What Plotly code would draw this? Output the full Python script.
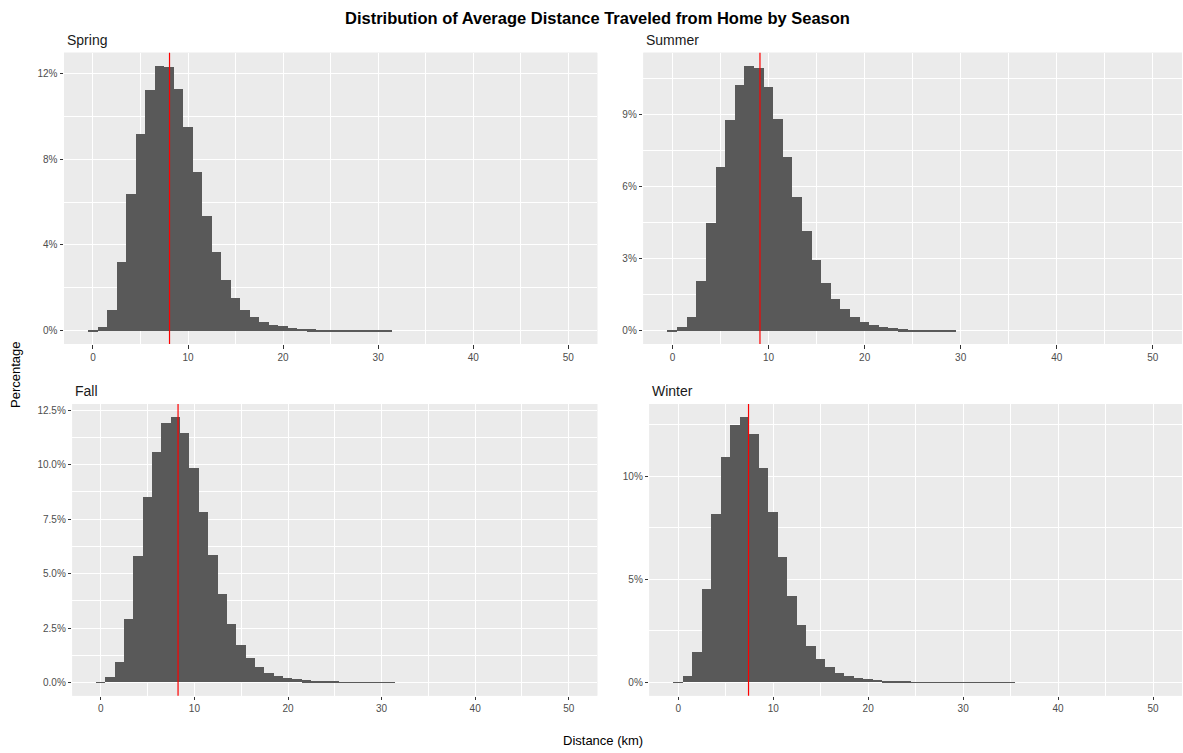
import plotly.graph_objects as go

W, H = 1183, 753

seasons = ["Spring", "Summer", "Fall", "Winter"]

spring_pct = [0.02, 0.19, 0.96, 3.23, 6.39, 9.18, 11.24, 12.35, 12.31, 11.27, 9.51, 7.40, 5.38,
              3.67, 2.38, 1.54, 0.99, 0.65, 0.42, 0.30, 0.22, 0.16, 0.11, 0.08, 0.06, 0.05,
              0.04, 0.02, 0.02, 0.01, 0.01, 0.01]
summer_pct = [0.02, 0.15, 0.58, 2.09, 4.49, 6.82, 8.79, 10.26, 11.03, 10.96, 10.15, 8.82, 7.24,
              5.60, 4.15, 2.94, 2.00, 1.35, 0.90, 0.58, 0.37, 0.25, 0.17, 0.11, 0.08, 0.06,
              0.04, 0.02, 0.01, 0.01]
fall_pct = [0.02, 0.25, 0.95, 2.92, 5.79, 8.51, 10.60, 11.92, 12.18, 11.47, 9.86, 7.83, 5.84,
            4.04, 2.69, 1.74, 1.14, 0.71, 0.45, 0.31, 0.20, 0.14, 0.09, 0.06, 0.05, 0.03,
            0.02, 0.02, 0.01, 0.01, 0.01, 0.01]
winter_pct = [0.02, 0.29, 1.49, 4.55, 8.17, 10.94, 12.50, 12.86, 12.03, 10.39, 8.28, 6.10, 4.20,
              2.78, 1.77, 1.12, 0.73, 0.47, 0.31, 0.21, 0.15, 0.10, 0.06, 0.05, 0.03, 0.02,
              0.02, 0.01, 0.01, 0.01, 0.01, 0.01, 0.01, 0.01, 0.01, 0.01]

mean_km = [8.05, 9.1, 8.25, 7.4]

x_ticks = [0, 10, 20, 30, 40, 50]
y_tickvals = [[0, 4, 8, 12], [0, 3, 6, 9], [0, 2.5, 5, 7.5, 10, 12.5], [0, 5, 10]]
y_ticktext = [["0%", "4%", "8%", "12%"], ["0%", "3%", "6%", "9%"],
              ["0.0%", "2.5%", "5.0%", "7.5%", "10.0%", "12.5%"], ["0%", "5%", "10%"]]
y_minor = [2, 1.5, 1.25, 2.5]

series = [spring_pct, summer_pct, fall_pct, winter_pct]

# panel rectangles in pixels (left, top, right, bottom)
panels = [(64, 52.7, 597.3, 344), (643.3, 52.7, 1182, 344),
          (72.3, 404, 597.3, 695.7), (649.3, 404, 1182, 695.7)]

FONT = "Liberation Sans, Arial, Helvetica, sans-serif"

fig = go.Figure()
layout = {}
shapes = []
annotations = []

for i, (name, vals) in enumerate(zip(seasons, series)):
    k = "" if i == 0 else str(i + 1)
    xa, ya = "x" + k, "y" + k
    centers = list(range(len(vals)))
    fig.add_trace(go.Bar(x=centers, y=vals, width=1, xaxis=xa, yaxis=ya,
                         marker=dict(color="#595959", line=dict(width=0)),
                         showlegend=False, name=name))
    l, t, r, b = panels[i]
    ymax = max(vals)
    layout["xaxis" + k] = dict(
        domain=[l / W, r / W], anchor=ya, range=[-3.05, 53.05],
        tickvals=x_ticks, ticktext=[str(v) for v in x_ticks],
        showgrid=True, gridcolor="white", gridwidth=1.1, zeroline=False,
        ticks="outside", ticklen=3.5, tickwidth=1, tickcolor="#333333",
        tickfont=dict(size=10, color="#4D4D4D", family=FONT),
        minor=dict(dtick=5, tick0=0, showgrid=True, gridcolor="white", gridwidth=0.55),
        showline=False, fixedrange=True)
    layout["yaxis" + k] = dict(
        domain=[1 - b / H, 1 - t / H], anchor=xa,
        range=[-0.05 * ymax, 1.05 * ymax],
        tickvals=y_tickvals[i], ticktext=y_ticktext[i],
        showgrid=True, gridcolor="white", gridwidth=1.1, zeroline=False,
        ticks="outside", ticklen=3.5, tickwidth=1, tickcolor="#333333",
        tickfont=dict(size=10, color="#4D4D4D", family=FONT),
        minor=dict(dtick=y_minor[i], tick0=0, showgrid=True, gridcolor="white", gridwidth=0.55),
        showline=False, fixedrange=True)
    # panel background
    shapes.append(dict(type="rect", xref="paper", yref="paper", x0=l / W, x1=r / W,
                       y0=1 - b / H, y1=1 - t / H, fillcolor="#EBEBEB",
                       line=dict(width=0), layer="below"))
    # mean line
    shapes.append(dict(type="line", xref=xa, yref=ya + " domain", x0=mean_km[i], x1=mean_km[i],
                       y0=0, y1=1, line=dict(color="red", width=1.2), layer="above"))
    # strip title
    annotations.append(dict(text=name, xref="paper", yref="paper", x=(l + 1) / W,
                            y=1 - (t - 13) / H, xanchor="left", yanchor="middle",
                            showarrow=False, font=dict(size=14, color="#1A1A1A", family=FONT)))

annotations.append(dict(text="<b>Distribution of Average Distance Traveled from Home by Season</b>",
                        xref="paper", yref="paper", x=597 / W, y=1 - 18 / H,
                        xanchor="center", yanchor="middle", showarrow=False,
                        font=dict(size=16.5, color="black", family=FONT)))
annotations.append(dict(text="Distance (km)", xref="paper", yref="paper", x=603 / W, y=1 - 740 / H,
                        xanchor="center", yanchor="middle", showarrow=False,
                        font=dict(size=13, color="black", family=FONT)))
annotations.append(dict(text="Percentage", xref="paper", yref="paper", x=15 / W, y=1 - 375 / H,
                        xanchor="center", yanchor="middle", textangle=-90, showarrow=False,
                        font=dict(size=13, color="black", family=FONT)))

fig.update_layout(width=W, height=H, margin=dict(l=0, r=0, t=0, b=0),
                  paper_bgcolor="white", plot_bgcolor="#EBEBEB", bargap=0,
                  shapes=shapes, annotations=annotations, showlegend=False,
                  font=dict(family=FONT), **layout)

fig.write_html("out.html")
